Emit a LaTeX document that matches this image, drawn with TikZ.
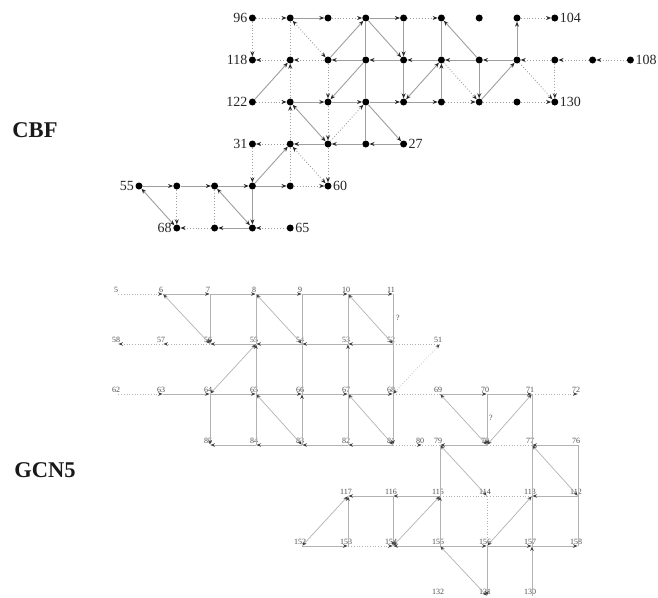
\documentclass[tikz,border=0pt]{standalone}
\usepackage{fontspec}
\setmainfont{Liberation Serif}
\usetikzlibrary{arrows.meta}
\begin{document}
\begin{tikzpicture}[x=1pt,y=-1pt,
  dot/.style={circle,fill=black,inner sep=0pt,minimum size=7pt},
  clab/.style={font=\fontsize{14}{14}\selectfont,text=black!85,inner sep=1.2pt},
  title/.style={font=\bfseries\fontsize{22.5}{22.5}\selectfont,text=black!90},
  sl/.style={draw=black!38,line width=0.9pt},
  dt/.style={draw=black!38,line width=0.9pt,dotted},
  gpt/.style={circle,inner sep=0pt,minimum size=0.5pt},
  glab/.style={font=\fontsize{8}{8}\selectfont,text=black!70,inner sep=0.8pt,xshift=-2pt},
  gs/.style={draw=black!30,line width=0.7pt},
  gd/.style={draw=black!30,line width=0.7pt,dotted},
  >={Stealth[length=5pt,width=4pt,black!85]}
]
\useasboundingbox (0,0) rectangle (658,597);

% titles
\node[title] (cbf) at (35,130) {CBF};
\node[title] (gcn) at (45,470) {GCN5};

% ---------------- CBF ----------------
\foreach \r/\lo/\hi in {0/3/11,1/3/13,2/3/11,3/3/7,4/0/5,5/1/4}{
  \foreach \c in {\lo,...,\hi}{
    \node[dot] (a\c-\r) at ({139+37.8*\c},{18+42*\r}) {};
  }
}
\node[clab,anchor=east] (l96) at (a3-0.west) {96};
\node[clab,anchor=east] (l118) at (a3-1.west) {118};
\node[clab,anchor=east] (l122) at (a3-2.west) {122};
\node[clab,anchor=east] (l31) at (a3-3.west) {31};
\node[clab,anchor=east] (l55) at (a0-4.west) {55};
\node[clab,anchor=east] (l68) at (a1-5.west) {68};
\node[clab,anchor=west] (l104) at (a11-0.east) {104};
\node[clab,anchor=west] (l108) at (a13-1.east) {108};
\node[clab,anchor=west] (l130) at (a11-2.east) {130};
\node[clab,anchor=west] (l27) at (a7-3.east) {27};
\node[clab,anchor=west] (l60) at (a5-4.east) {60};
\node[clab,anchor=west] (l65) at (a4-5.east) {65};

\foreach \a/\b in {a4-0/a5-0,a6-0/a7-0,a5-1/a6-0,a6-0/a7-1,a7-0/a7-1,a7-1/a7-2,
  a6-1/a5-1,a7-1/a6-1,a8-1/a7-1,a9-1/a8-1,a10-1/a9-1,a3-2/a4-1,a6-1/a5-2,
  a4-2/a5-2,a5-2/a6-2,a6-2/a7-2,a7-2/a8-2,a8-2/a8-1,a9-1/a8-0,a9-1/a9-2,
  a9-2/a10-1,a10-1/a10-0,a6-2/a7-3,a5-3/a4-3,a6-3/a5-3,a7-3/a6-3,a3-4/a4-3,
  a0-4/a1-4,a1-4/a2-4,a2-4/a3-4,a3-4/a4-4,a3-4/a3-5,a3-5/a2-5}
  \draw[sl,->] (\a) -- (\b);
\foreach \a/\b in {a8-1/a7-2,a4-2/a5-3,a0-4/a1-5,a2-4/a3-5}
  \draw[sl,<->] (\a) -- (\b);
\foreach \a/\b in {a6-0/a6-1,a6-1/a6-2,a6-2/a6-3,a8-0/a8-1}
  \draw[sl] (\a) -- (\b);
\foreach \a/\b in {a3-0/a4-0,a5-0/a6-0,a7-0/a8-0,a10-0/a11-0,a3-0/a3-1,a4-1/a3-1,
  a5-1/a4-1,a5-1/a5-2,a4-2/a4-1,a3-2/a4-2,a11-1/a10-1,a12-1/a11-1,a13-1/a12-1,
  a8-1/a9-2,a10-1/a11-2,a11-1/a11-2,a8-2/a9-2,a10-2/a11-2,a5-3/a6-2,a5-2/a5-3,
  a4-3/a4-2,a4-3/a3-3,a3-3/a3-4,a5-3/a5-4,a4-4/a5-4,a1-4/a1-5,a2-5/a1-5,a4-5/a3-5}
  \draw[dt,->] (\a) -- (\b);
\foreach \a/\b in {a4-0/a5-1,a4-3/a5-4}
  \draw[dt,<->] (\a) -- (\b);
\foreach \a/\b in {a4-0/a4-1,a9-2/a10-2,a4-3/a4-4,a2-4/a2-5}
  \draw[dt] (\a) -- (\b);

% ---------------- GCN5 ----------------
\foreach \n/\x/\y in {5/118/294,6/163/294,7/210/294,8/256/294,9/302/294,10/348/294,11/393/294,
  58/118/344,57/163/344,56/210/344,55/256/344,54/302/344,53/348/344,52/393/344,51/440/344,
  62/118/394,63/163/394,64/210/394,65/256/394,66/302/394,67/348/394,68/393/394,69/440/394,70/487/394,71/532/394,72/578/394,
  85/210/445,84/256/445,83/302/445,82/348/445,81/393/445,80/422/445,79/440/445,78/487/445,77/532/445,76/578/445,
  117/348/496,116/393/496,115/440/496,114/487/496,113/532/496,112/578/496,
  152/302/546,153/348/546,154/393/546,155/440/546,156/487/546,157/532/546,158/578/546,
  132/440/596,131/487/596,130/532/596}
  \node[gpt,label={[glab]above:\n}] (g\n) at (\x,\y) {};

\begin{scope}[>={Stealth[length=4.5pt,width=3.5pt,black!75]}]
\foreach \a/\b in {6/7,7/8,8/9,9/10,10/11,7/56,55/56,54/55,53/54,52/53,65/55,83/66,
  67/53,68/81,63/64,64/65,65/66,66/67,67/68,64/85,69/70,70/71,70/78,130/157,
  84/85,83/84,82/83,81/82,78/79,76/77,155/115,116/117,115/116,112/113,153/117,
  116/154,152/153,155/154,155/156,156/157,157/158,156/131}
  \draw[gs,->] (g\a) -- (g\b);
\foreach \a/\b in {6/56,8/54,10/52,64/55,65/83,67/81,69/78,78/71,79/114,77/112,
  152/117,154/115,156/113,155/131}
  \draw[gs,<->] (g\a) -- (g\b);
\foreach \a/\b in {8/55,65/84,9/54,54/66,10/53,67/82,11/52,52/68,71/77,77/113,
  113/157,79/115,76/112,112/158}
  \draw[gs] (g\a) -- (g\b);
\foreach \a/\b in {5/6,57/58,56/57,62/63,71/72,81/80,153/154}
  \draw[gd,->] (g\a) -- (g\b);
\draw[gd,<->] (g68) -- (g51);
\foreach \a/\b in {52/51,68/69,80/79,78/77,115/114,114/113,114/156}
  \draw[gd] (g\a) -- (g\b);
\end{scope}
\node[glab] (q1) at (400,318) {?};
\node[glab] (q2) at (493,418) {?};
\end{tikzpicture}
\end{document}
